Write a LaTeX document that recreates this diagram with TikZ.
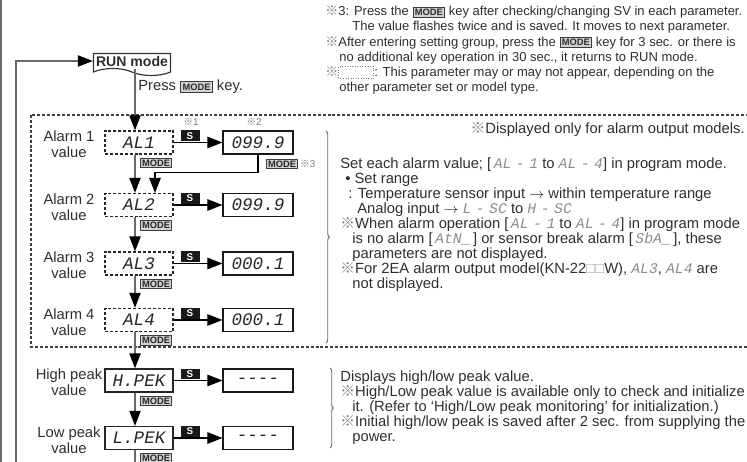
\documentclass[tikz,border=0pt]{standalone}
\usepackage{fontspec}
\setmainfont{Liberation Sans}
\newfontfamily\cjk{Noto Sans CJK JP}
\newfontfamily\segfont{Liberation Mono}
\usetikzlibrary{positioning, arrows.meta, shapes.symbols, calc, decorations.pathreplacing}
\definecolor{cLine}{HTML}{6A6A6A}
\definecolor{cText}{HTML}{2E2E2E}
\definecolor{cKey}{HTML}{D2D2D2}
\definecolor{cKeyB}{HTML}{3C3C3C}
\definecolor{cSeg}{HTML}{8C8C8C}
\definecolor{cMark}{HTML}{7A7A7A}
\newcommand{\refmark}{{\cjk\color{cMark}※}}
\newcommand{\segtext}{\fontsize{10}{10}\selectfont\segfont\itshape\color{black!85}}
\newcommand{\seg}[1]{{\segfont\itshape\color{cSeg}#1}}
\newcommand{\sd}{\kern0.09cm-\kern0.09cm}
\newcommand{\notefont}{\fontsize{8.4}{8.55}\selectfont\lineskiplimit=-20pt\relax}
\newcommand{\topfont}{\fontsize{7.4}{8.55}\selectfont\lineskiplimit=-20pt\relax}
\newcommand{\keycap}{%
  \raisebox{0.3pt}{\setlength{\fboxsep}{0.9pt}\setlength{\fboxrule}{0.45pt}%
  \fcolorbox{cKeyB}{cKey}{\fontsize{5.3}{5.3}\selectfont\bfseries MODE}}}
\newcommand{\dotbox}{%
  \tikz[baseline=0pt]\draw[densely dotted, line width=0.45pt, cMark]
    (0pt,-1.2pt) rectangle (20pt,5.6pt);}
\tikzset{
  runbox/.style   ={tape, tape bend top=none, tape bend bottom=out and in,
                    tape bend height=0.14cm, draw=black!80, line width=0.65pt,
                    minimum width=1.54cm, minimum height=0.44cm, inner sep=1pt,
                    font=\fontsize{8}{9}\selectfont\bfseries, text=cText},
  parambox/.style ={draw=black!85, dash pattern=on 1.7pt off 1.1pt,
                    line width=0.65pt, minimum width=1.36cm,
                    minimum height=0.46cm, inner sep=0pt, font=\segtext},
  peakbox/.style  ={parambox, solid},
  valbox/.style   ={draw=black!90, line width=0.65pt, minimum width=1.4cm,
                    minimum height=0.46cm, inner sep=0pt, font=\segtext},
  modekey/.style  ={draw=cKeyB, fill=cKey, line width=0.45pt, inner sep=0.9pt,
                    font=\fontsize{5.3}{5.3}\selectfont\bfseries, text=black!85},
  skey/.style     ={fill=black!90, text=white, minimum width=0.38cm,
                    minimum height=0.22cm, inner sep=0pt,
                    font=\fontsize{5.6}{5.6}\selectfont\bfseries},
  lbl/.style      ={align=center, font=\fontsize{8.4}{9.1}\selectfont, text=cText},
  note/.style     ={align=left, inner sep=0pt, font=\notefont, text=cText},
  topnote/.style  ={note, font=\topfont},
  refnum/.style   ={inner sep=0pt, font=\fontsize{5.6}{5.6}\selectfont, text=cMark},
  flow/.style     ={-{Triangle[length=0.3cm, width=0.22cm, color=black]},
                    draw=cLine, line width=1.1pt},
  sflow/.style    ={-{Triangle[length=0.3cm, width=0.23cm]}, draw=black,
                    line width=0.6pt},
  edgeline/.style ={draw=cLine, line width=1pt},
  grp/.style      ={draw=black!75, dash pattern=on 1.7pt off 1.1pt, line width=0.6pt},
  brace/.style    ={decorate, decoration={brace, amplitude=0.07cm},
                    draw=cLine, line width=0.55pt},
}

\begin{document}
\begin{tikzpicture}[x=0.02cm, y=-0.02cm, spine/.style={xshift=-0.08cm}]

  \useasboundingbox (0,0) rectangle (747,462);

  % ============================================================
  % FRAME (page rule on the left + optional alarm group)
  % ============================================================
  \draw[edgeline] (1,0) -- (1,462);
  \draw[grp] (31,115) rectangle (790,347);

  % ============================================================
  % RUN MODE + ENTRY KEY
  % ============================================================
  \node[runbox] (run) at (132,61) {RUN mode};
  \node[note, anchor=west] (press) at (138,87) {Press \keycap{} key.};

  % ============================================================
  % PARAMETER COLUMN (labels, displays, set values)
  % ============================================================
  \node[lbl] (lab1) at (69,144.5) {Alarm 1\\value};
  \node[lbl] (lab2) at (69,207)   {Alarm 2\\value};
  \node[lbl] (lab3) at (69,265.5) {Alarm 3\\value};
  \node[lbl] (lab4) at (69,322)   {Alarm 4\\value};
  \node[lbl] (lab5) at (69,382.5) {High peak\\value};
  \node[lbl] (lab6) at (69,440)   {Low peak\\value};

  \node[parambox] (al1)  at (139,142.5) {AL1};
  \node[parambox] (al2)  at (139,205)   {AL2};
  \node[parambox] (al3)  at (139,263.5) {AL3};
  \node[parambox] (al4)  at (139,320)   {AL4};
  \node[peakbox]  (hpek) at (139,380.5) {H.PEK};
  \node[peakbox]  (lpek) at (139,438)   {L.PEK};

  \node[valbox] (v1) at (258,142.5) {099.9};
  \node[valbox] (v2) at (258,205)   {099.9};
  \node[valbox] (v3) at (258,263.5) {000.1};
  \node[valbox] (v4) at (258,320)   {000.1};
  \node[valbox] (vh) at (258,380.5) {----};
  \node[valbox] (vl) at (258,438)   {----};

  % --- S keys above the set-value arrows ---
  \node[skey] (s1) at (190,136)   {S};
  \node[skey] (s2) at (190,198.5) {S};
  \node[skey] (s3) at (190,257)   {S};
  \node[skey] (s4) at (190,313.5) {S};
  \node[skey] (s5) at (190,374)   {S};
  \node[skey] (s6) at (190,431.5) {S};

  \node[refnum] (n1) at (191,122) {{\cjk ※}1};
  \node[refnum] (n2) at (254,122) {{\cjk ※}2};

  % --- MODE keys beside the downward flow ---
  \node[modekey] (m1) at (156,163)   {MODE};
  \node[modekey] (m2) at (156,225.5) {MODE};
  \node[modekey] (m3) at (156,284)   {MODE};
  \node[modekey] (m4) at (156,340.5) {MODE};
  \node[modekey] (m5) at (156,401)   {MODE};
  \node[modekey] (m6) at (156,458.5) {MODE};
  \node[modekey] (m7) at (282,164)   {MODE};
  \node[refnum, right=1pt of m7] (n3) {{\cjk ※}3};

  % --- Main flow ---
  \draw[flow] ([xshift=0.06cm]run.south) -- ([spine]al1.north);
  \draw[flow] ([spine]al1.south) -- ([spine]al2.north);
  \draw[flow] ([spine]al2.south) -- ([spine]al3.north);
  \draw[flow] ([spine]al3.south) -- ([spine]al4.north);
  \draw[flow] ([spine]al4.south) -- ([spine]hpek.north);
  \draw[flow] ([spine]hpek.south) -- ([spine]lpek.north);
  \draw[flow, -] ([spine]lpek.south) -- ++(0,30);

  \draw[sflow] (al1) -- (v1);
  \draw[sflow] (al2) -- (v2);
  \draw[sflow] (al3) -- (v3);
  \draw[sflow] (al4) -- (v4);
  \draw[sflow] (hpek) -- (vh);
  \draw[sflow] (lpek) -- (vl);

  \draw[sflow] (v1.south) -- ++(0,18) -| ([xshift=0.32cm]al2.north);

  % --- Return to RUN mode ---
  \coordinate (loopin) at (16,475);
  \draw[flow] (loopin) |- (run.west);

  % ============================================================
  % NOTES (top right, and one block per group)
  % ============================================================
  \node[topnote, anchor=north west] (topnote) at (325,6) {%
    \refmark 3: Press the \keycap{} key after checking/changing SV in each parameter.\\
    \hspace*{0.54cm}The value flashes twice and is saved. It moves to next parameter.\\
    \refmark After entering setting group, press the \keycap{} key for 3 sec. or there is\\
    \hspace*{0.28cm}no additional key operation in 30 sec., it returns to RUN mode.\\
    \refmark\dotbox: This parameter may or may not appear, depending on the\\
    \hspace*{0.28cm}other parameter set or model type.};

  \node[note, anchor=east] (dispnote) at (745,130)
    {\refmark Displayed only for alarm output models.};

  \draw[brace] (326,131) -- (326,343);
  \node[note, anchor=north west] (alnote) at (340,157) {%
    Set each alarm value; [\,\seg{AL\sd1} to \seg{AL\sd4}] in program mode.\\
    \hspace*{0.1cm}• Set range\\
    \hspace*{0.16cm}: Temperature sensor input $\rightarrow$ within temperature range\\
    \hspace*{0.34cm}Analog input $\rightarrow$ \seg{L\sd SC} to \seg{H\sd SC}\\
    \refmark When alarm operation [\,\seg{AL\sd1} to \seg{AL\sd4}] in program mode\\
    \hspace*{0.24cm}is no alarm [\,\seg{AtN\_}\,] or sensor break alarm [\,\seg{SbA\_}\,], these\\
    \hspace*{0.24cm}parameters are not displayed.\\
    \refmark For 2EA alarm output model(KN-22\textcolor{black!35}{□□}W), \seg{AL3}, \seg{AL4} are\\
    \hspace*{0.24cm}not displayed.};

  \draw[brace] (330,368) -- (330,448);
  \node[note, anchor=north west] (pknote) at (340,370) {%
    Displays high/low peak value.\\
    \refmark High/Low peak value is available only to check and initialize\\
    \hspace*{0.24cm}it. (Refer to ‘High/Low peak monitoring’ for initialization.)\\
    \refmark Initial high/low peak is saved after 2 sec. from supplying the\\
    \hspace*{0.24cm}power.};

\end{tikzpicture}
\end{document}
